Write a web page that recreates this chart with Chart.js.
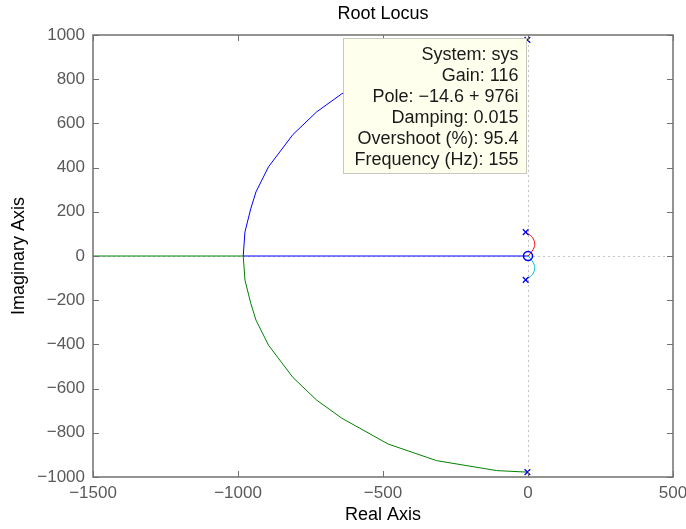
<!DOCTYPE html>
<html lang="en">
<head>
    <meta charset="UTF-8">
    <title>Root Locus</title>
    <script src="https://cdn.jsdelivr.net/npm/chart.js"></script>
    <style>
        body {
            margin: 0;
            background: #ffffff;
        }
        .chart-container {
            width: 686px;
            height: 529px;
        }
    </style>
</head>
<body>
    <div class="chart-container">
        <canvas id="locusChart"></canvas>
    </div>

    <script>
        const chartTitle = 'Root Locus';

        // axis ticks
        const realTicks = [-1500, -1000, -500, 0, 500];
        const imagTicks = [-1000, -800, -600, -400, -200, 0, 200, 400, 600, 800, 1000];

        // branches of the locus as [real, imag] pairs
        const blueBranch = [[-2, 978], [-108, 971], [-315, 926], [-482, 851], [-642, 734], [-729, 652],
            [-811, 549], [-895, 403], [-938, 290], [-956, 214], [-976, 109], [-982, 0], [0, 0]];
        const greenBranch = [[-2, -978], [-108, -971], [-315, -926], [-482, -851], [-642, -734], [-729, -652],
            [-811, -549], [-895, -403], [-938, -290], [-956, -214], [-976, -109], [-982, 0], [-1500, 0]];
        const redBranch = [[-8, 108], [13, 87], [22, 65], [22, 42], [13, 20], [0, 0]];
        const cyanBranch = [[-8, -108], [13, -87], [22, -65], [22, -42], [13, -20], [0, 0]];

        // open-loop poles and zero
        const poles = [[-2, 978], [-2, -978], [-8, 108], [-8, -108]];
        const zeros = [[0, 0]];

        // data tip
        const tipSystem = 'sys';
        const tipGain = 116;
        const tipPole = [-14.6, 976];
        const tipDamping = 0.015;
        const tipOvershoot = 95.4;
        const tipFreq = 155;

        const FONT = "'Liberation Sans', Arial, Helvetica, sans-serif";
        const minus = v => String(v).replace('-', '\u2212');
        const toXY = arr => arr.map(p => ({ x: p[0], y: p[1] }));

        function branch(data, color, tension) {
            return {
                data: toXY(data),
                showLine: true,
                borderColor: color,
                borderWidth: 1,
                pointRadius: 0,
                tension: tension || 0,
                fill: false
            };
        }

        // frame, inner ticks, dotted origin lines, title and the data tip box
        const matlabAxes = {
            id: 'matlabAxes',
            beforeDatasetsDraw(chart) {
                const { ctx, chartArea: a, scales: { x, y } } = chart;
                const x0 = Math.round(x.getPixelForValue(0)) + 0.5;
                const y0 = Math.round(y.getPixelForValue(0)) + 0.5;
                ctx.save();
                ctx.strokeStyle = '#c4c4c4';
                ctx.lineWidth = 1;
                ctx.setLineDash([2, 3]);
                ctx.beginPath();
                ctx.moveTo(x0, a.top);
                ctx.lineTo(x0, a.bottom);
                ctx.moveTo(a.left, y0);
                ctx.lineTo(a.right, y0);
                ctx.stroke();
                ctx.restore();
            },
            afterDatasetsDraw(chart) {
                const { ctx, chartArea: a, scales: { x, y } } = chart;
                ctx.save();
                ctx.strokeStyle = '#707070';
                ctx.lineWidth = 1;
                ctx.beginPath();
                realTicks.forEach(v => {
                    const px = Math.round(x.getPixelForValue(v)) + 0.5;
                    ctx.moveTo(px, a.bottom); ctx.lineTo(px, a.bottom - 6);
                    ctx.moveTo(px, a.top); ctx.lineTo(px, a.top + 6);
                });
                imagTicks.forEach(v => {
                    const py = Math.round(y.getPixelForValue(v)) + 0.5;
                    ctx.moveTo(a.left, py); ctx.lineTo(a.left + 6, py);
                    ctx.moveTo(a.right, py); ctx.lineTo(a.right - 6, py);
                });
                ctx.stroke();
                ctx.lineWidth = 1.5;
                ctx.strokeRect(a.left, a.top, a.right - a.left, a.bottom - a.top);

                // title centred over the axes
                ctx.fillStyle = '#000000';
                ctx.font = '18px ' + FONT;
                ctx.textAlign = 'center';
                ctx.textBaseline = 'middle';
                ctx.fillText(chartTitle, (a.left + a.right) / 2, 14);

                // data tip box, hung from the selected point
                const lines = [
                    'System: ' + tipSystem,
                    'Gain: ' + tipGain,
                    'Pole: ' + minus(tipPole[0]) + ' + ' + tipPole[1] + 'i',
                    'Damping: ' + tipDamping,
                    'Overshoot (%): ' + tipOvershoot,
                    'Frequency (Hz): ' + tipFreq
                ];
                const px = x.getPixelForValue(tipPole[0]);
                const py = y.getPixelForValue(tipPole[1]);
                const w = 183, h = 135;
                const right = Math.round(px + 2) + 0.5;
                const top = Math.round(py - 2) + 0.5;
                ctx.fillStyle = '#ffffee';
                ctx.fillRect(right - w, top, w, h);
                ctx.strokeStyle = '#c8c8c0';
                ctx.lineWidth = 1;
                ctx.strokeRect(right - w, top, w, h);
                ctx.fillStyle = '#1a1a1a';
                ctx.font = '18px ' + FONT;
                ctx.textAlign = 'right';
                ctx.textBaseline = 'alphabetic';
                lines.forEach((t, i) => ctx.fillText(t, right - 8, top + 21 + i * 21));
                ctx.restore();
            }
        };

        new Chart(document.getElementById('locusChart'), {
            type: 'scatter',
            data: {
                datasets: [
                    { // data tip marker
                        data: toXY([tipPole]),
                        pointStyle: 'rect',
                        pointRadius: 2.5,
                        backgroundColor: '#444444',
                        borderColor: '#444444',
                        borderWidth: 1
                    },
                    { // poles
                        data: toXY(poles),
                        pointStyle: 'crossRot',
                        pointRadius: 4,
                        borderColor: '#0000ff',
                        borderWidth: 1.3
                    },
                    { // zero
                        data: toXY(zeros),
                        pointStyle: 'circle',
                        pointRadius: 4.5,
                        backgroundColor: 'rgba(0,0,0,0)',
                        borderColor: '#0000ff',
                        borderWidth: 1.5
                    },
                    branch(redBranch, '#ff0000', 0.4),
                    branch(cyanBranch, '#00bfbf', 0.4),
                    branch(greenBranch, '#008000'),
                    branch(blueBranch, '#0000ff')
                ]
            },
            options: {
                responsive: true,
                maintainAspectRatio: false,
                animation: false,
                layout: { padding: { left: 0, right: 13, top: 35, bottom: 0 } },
                plugins: {
                    legend: { display: false },
                    tooltip: { enabled: false },
                    title: { display: false }
                },
                scales: {
                    x: {
                        type: 'linear',
                        min: -1500,
                        max: 500,
                        afterBuildTicks: s => { s.ticks = realTicks.map(v => ({ value: v })); },
                        // labels may run past the canvas edge, as in the original figure
                        afterFit: s => { s.height = 52; s.paddingLeft = 0; s.paddingRight = 0; },
                        grid: { display: false, drawTicks: false, tickLength: 0 },
                        border: { display: false },
                        ticks: {
                            color: '#5a5a5a',
                            font: { family: FONT, size: 17 },
                            padding: 6,
                            maxRotation: 0,
                            callback: v => minus(v)
                        },
                        title: {
                            display: true,
                            text: 'Real Axis',
                            color: '#000000',
                            font: { family: FONT, size: 18 },
                            padding: { top: 0, bottom: 3 }
                        }
                    },
                    y: {
                        type: 'linear',
                        min: -1000,
                        max: 1000,
                        afterBuildTicks: s => { s.ticks = imagTicks.map(v => ({ value: v })); },
                        afterFit: s => { s.width = 93; s.paddingTop = 0; s.paddingBottom = 0; },
                        grid: { display: false, drawTicks: false, tickLength: 0 },
                        border: { display: false },
                        ticks: {
                            color: '#5a5a5a',
                            font: { family: FONT, size: 17 },
                            padding: 8,
                            callback: v => minus(v)
                        },
                        title: {
                            display: true,
                            text: 'Imaginary Axis',
                            color: '#000000',
                            font: { family: FONT, size: 18 },
                            padding: { top: 8, bottom: 0 }
                        }
                    }
                }
            },
            plugins: [matlabAxes]
        });
    </script>
</body>
</html>
